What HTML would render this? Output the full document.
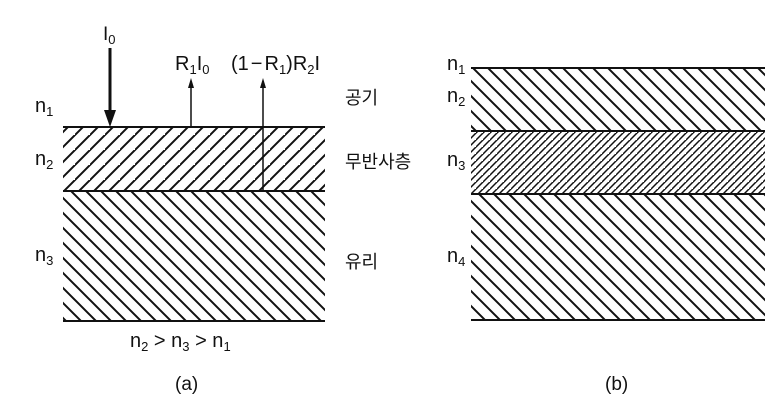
<!DOCTYPE html>
<html><head><meta charset="utf-8"><style>
html,body{margin:0;padding:0;background:#fff;}
svg{display:block;}
text{font-family:"Liberation Sans","Noto Sans CJK KR",sans-serif;fill:#111;}
</style></head><body>
<svg width="779" height="402" viewBox="0 0 779 402" xmlns="http://www.w3.org/2000/svg">
<defs>
<pattern id="fw" patternUnits="userSpaceOnUse" width="15" height="15">
<path d="M-2,17 L17,-2 M-17,17 L2,-2 M13,32 L32,13" stroke="#111" stroke-width="2"/>
</pattern>
<pattern id="bw" patternUnits="userSpaceOnUse" width="15" height="15">
<path d="M-2,-2 L17,17 M13,-2 L32,17 M-17,-2 L2,17" stroke="#111" stroke-width="2"/>
</pattern>
<pattern id="fwd" patternUnits="userSpaceOnUse" width="7" height="7">
<path d="M-1,8 L8,-1 M-8,8 L1,-1 M6,15 L15,6" stroke="#111" stroke-width="1.5"/>
</pattern>
</defs>
<!-- (a) -->
<rect x="63" y="127" width="262" height="64" fill="url(#fw)"/>
<rect x="63" y="191" width="262" height="130" fill="url(#bw)"/>
<path d="M63,127 H325 M63,191 H325 M63,321 H325" stroke="#111" stroke-width="2"/>
<line x1="110" y1="48" x2="110" y2="112" stroke="#111" stroke-width="3"/>
<path d="M104,110 L110,127 L116,110 Z" fill="#111"/>
<line x1="191" y1="127" x2="191" y2="86" stroke="#111" stroke-width="1.5"/>
<path d="M188,88 L191,78 L194,88 Z" fill="#111"/>
<line x1="263" y1="191" x2="263" y2="86" stroke="#111" stroke-width="1.5"/>
<path d="M260,88 L263,78 L266,88 Z" fill="#111"/>
<text x="103" y="40" font-size="19">I<tspan font-size="13" dy="4">0</tspan></text>
<text x="175" y="70" font-size="20">R<tspan font-size="13" dy="4">1</tspan><tspan dy="-4">I</tspan><tspan font-size="13" dy="4">0</tspan></text>
<text x="231" y="70" font-size="20">(1<tspan dx="2">−</tspan><tspan dx="2">R</tspan><tspan font-size="13" dy="4">1</tspan><tspan dy="-4">)R</tspan><tspan font-size="13" dy="4">2</tspan><tspan dy="-4">I</tspan></text>
<text x="35" y="112" font-size="20">n<tspan font-size="13" dy="4">1</tspan></text>
<text x="35" y="165" font-size="20">n<tspan font-size="13" dy="4">2</tspan></text>
<text x="35" y="261" font-size="20">n<tspan font-size="13" dy="4">3</tspan></text>
<text x="345" y="104" font-size="18">공기</text>
<text x="345" y="168" font-size="18">무반사층</text>
<text x="345" y="268" font-size="18">유리</text>
<text x="130" y="347" font-size="20">n<tspan font-size="13" dy="4">2</tspan><tspan dy="-4"> &gt; n</tspan><tspan font-size="13" dy="4">3</tspan><tspan dy="-4"> &gt; n</tspan><tspan font-size="13" dy="4">1</tspan></text>
<text x="175" y="390" font-size="19">(a)</text>
<!-- (b) -->
<rect x="471" y="68" width="294" height="63" fill="url(#bw)"/>
<rect x="471" y="131" width="294" height="63" fill="url(#fwd)"/>
<rect x="471" y="194" width="294" height="126" fill="url(#bw)"/>
<path d="M471,68 H765 M471,131 H765 M471,194 H765 M471,320 H765" stroke="#111" stroke-width="2"/>
<text x="447" y="70" font-size="20">n<tspan font-size="13" dy="4">1</tspan></text>
<text x="447" y="102" font-size="20">n<tspan font-size="13" dy="4">2</tspan></text>
<text x="447" y="166" font-size="20">n<tspan font-size="13" dy="4">3</tspan></text>
<text x="447" y="262" font-size="20">n<tspan font-size="13" dy="4">4</tspan></text>
<text x="605" y="390" font-size="19">(b)</text>
</svg>
</body></html>
